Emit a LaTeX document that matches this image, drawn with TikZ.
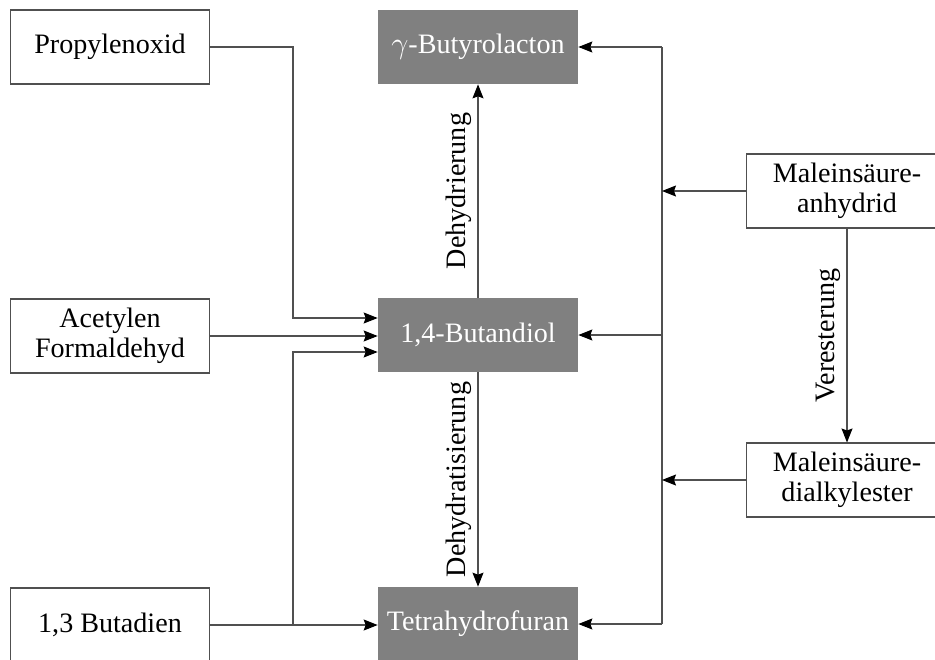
\documentclass[tikz,border=0pt]{standalone}
\usepackage{fontspec}
\setmainfont{Liberation Serif}
\usetikzlibrary{arrows.meta}
\definecolor{produkt}{RGB}{128, 128, 128}
\definecolor{linie}{RGB}{80, 80, 80}

\begin{document}
\begin{tikzpicture}[x=0.02cm, y=-0.02cm,
		font=\fontsize{16}{17}\selectfont,
		rohstoff/.style={draw=linie, fill=white, line width=0.6pt, minimum width=3.98cm, minimum height=1.48cm, align=center, inner sep=0pt},
		produkt/.style={fill=produkt, text=white, minimum width=4cm, minimum height=1.48cm, align=center, inner sep=0pt},
		flow/.style={draw=linie, line width=0.6pt, -{Stealth[length=2.8mm, width=2.2mm, inset=0.4mm, color=black]}},
		weg/.style={midway, rotate=90, anchor=south}]
	\useasboundingbox (0, 0) rectangle (935, 659);
	% Rohstoffe links
	\node[rohstoff] (prop) at (110, 47) {Propylenoxid};
	\node[rohstoff] (acet) at (110, 336) {Acetylen\\Formaldehyd};
	\node[rohstoff] (buta) at (110, 625) {1,3 Butadien};
	% Produkte in der Mitte
	\node[produkt] (gbl) at (478, 47) {$\gamma$-Butyrolacton};
	\node[produkt] (bdo) at (478, 335) {1,4-Butandiol};
	\node[produkt] (thf) at (478, 624) {Tetrahydrofuran};
	% Maleinsaeure rechts
	\node[rohstoff, minimum width=4.04cm] (msa) at (847, 191) {Maleinsäure-\\anhydrid};
	\node[rohstoff, minimum width=4.04cm] (mde) at (847, 480) {Maleinsäure-\\dialkylester};
	\coordinate (jtop) at (293, 318);
	\coordinate (jbot) at (293, 352);
	\coordinate (bus) at (662, 0);
	% linke Seite
	\draw[flow] (prop.east) -| (jtop) -- (jtop -| bdo.west);
	\draw[flow] (acet.east) -- (acet.east -| bdo.west);
	\draw[flow] (buta.east) -- (buta.east -| thf.west);
	\draw[flow] (jbot |- buta.east) -- (jbot) -- (jbot -| bdo.west);
	% Mitte
	\draw[flow] (bdo.north) -- (gbl.south) node[weg] {Dehydrierung};
	\draw[flow] (bdo.south) -- (thf.north) node[weg] {Dehydratisierung};
	% rechte Seite
	\draw[flow] (msa.south) -- (mde.north) node[weg] {Veresterung};
	\draw[draw=linie, line width=0.6pt] (bus |- gbl.east) -- (bus |- thf.east);
	\foreach \n in {gbl, bdo, thf}
		\draw[flow] (bus |- \n.east) -- (\n.east);
	\draw[flow] (msa.west) -- (msa.west -| bus);
	\draw[flow] (mde.west) -- (mde.west -| bus);
\end{tikzpicture}
\end{document}
